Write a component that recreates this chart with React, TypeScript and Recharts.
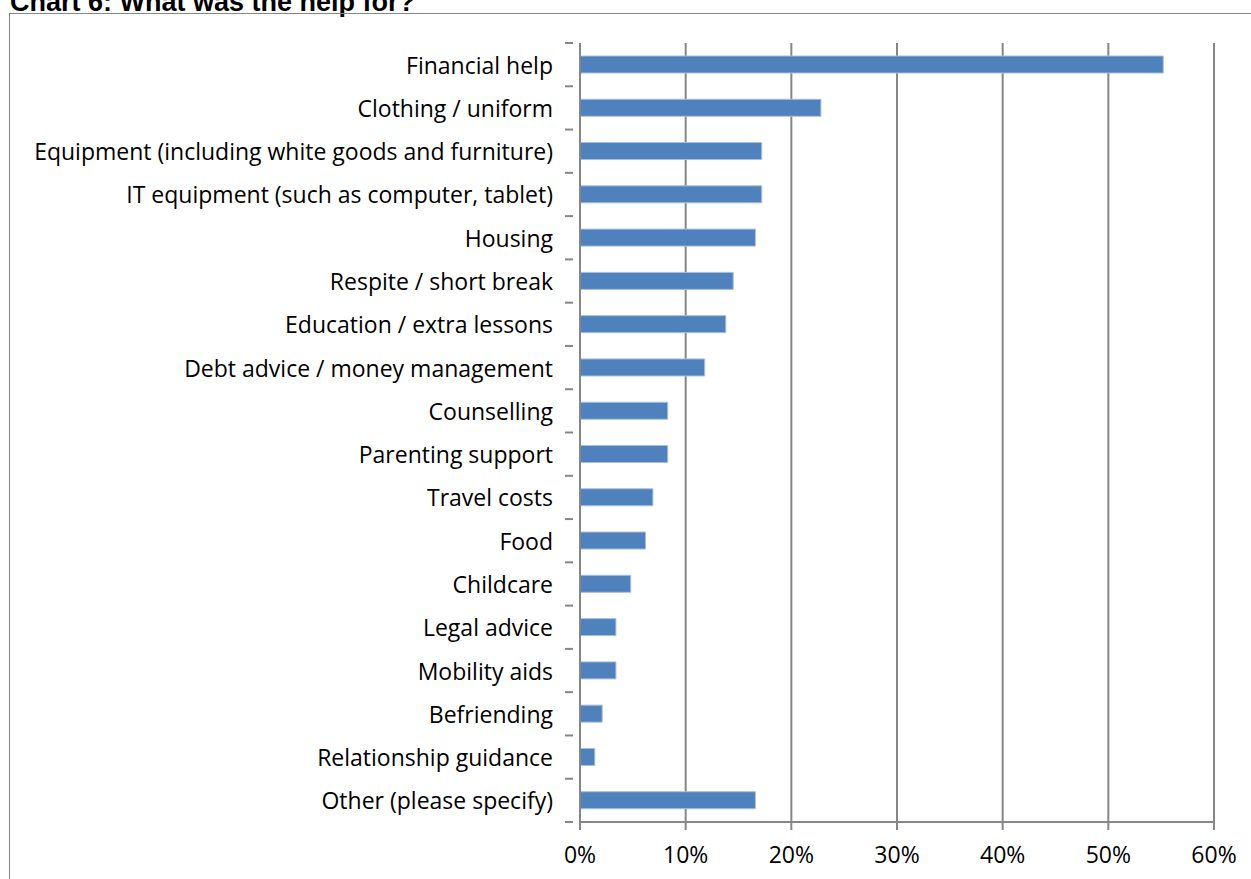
import { BarChart, Bar, XAxis, YAxis, CartesianGrid } from 'recharts';

const categories = [
  'Financial help',
  'Clothing / uniform',
  'Equipment (including white goods and furniture)',
  'IT equipment (such as computer, tablet)',
  'Housing',
  'Respite / short break',
  'Education / extra lessons',
  'Debt advice / money management',
  'Counselling',
  'Parenting support',
  'Travel costs',
  'Food',
  'Childcare',
  'Legal advice',
  'Mobility aids',
  'Befriending',
  'Relationship guidance',
  'Other (please specify)',
];

const shares = [
  0.552, 0.228, 0.172, 0.172, 0.166, 0.145, 0.138, 0.118, 0.083, 0.083,
  0.069, 0.062, 0.048, 0.034, 0.034, 0.021, 0.014, 0.166,
];

const xTicks = [0, 0.1, 0.2, 0.3, 0.4, 0.5, 0.6];

const data = categories.map((name, i) => ({ name, value: shares[i] }));

const W = 1251;
const H = 879;
const TOP = 43;
const BOTTOM = 57;
const band = (H - TOP - BOTTOM) / categories.length;
const font = '"Open Sans", sans-serif';
const axisColor = '#868686';

// category labels plus Excel-style tick marks between categories
const CategoryTick = (props: any) => {
  const { x, y, payload, index } = props;
  return (
    <g>
      <text
        x={x - 19}
        y={y}
        textAnchor="end"
        dominantBaseline="central"
        fontSize={23}
        fontFamily={font}
        fill="#000"
      >
        {payload.value}
      </text>
      {index === 0 && (
        <line x1={x - 7} x2={x + 1} y1={y - band / 2} y2={y - band / 2} stroke={axisColor} strokeWidth={2} />
      )}
      <line x1={x - 7} x2={x + 1} y1={y + band / 2} y2={y + band / 2} stroke={axisColor} strokeWidth={2} />
    </g>
  );
};

export default function App() {
  return (
    <div style={{ position: 'absolute', left: 0, top: 0, width: W, height: H, background: '#fff', overflow: 'hidden' }}>
      <div
        style={{
          position: 'absolute',
          left: 10,
          top: -13,
          fontFamily: '"Liberation Sans", Arial, sans-serif',
          fontWeight: 'bold',
          fontSize: 27,
          whiteSpace: 'nowrap',
        }}
      >
        Chart 6: What was the help for?
      </div>
      <div
        style={{
          position: 'absolute',
          left: 9,
          top: 13,
          width: W,
          height: H,
          border: `1px solid ${axisColor}`,
        }}
      />
      <div style={{ position: 'absolute', left: 0, top: 0 }}>
        <BarChart
          width={W}
          height={H}
          data={data}
          layout="vertical"
          margin={{ top: TOP, right: 37, bottom: 27, left: 10 }}
          barSize={17}
        >
          <CartesianGrid horizontal={false} stroke={axisColor} strokeWidth={2} />
          <XAxis
            type="number"
            domain={[0, 0.6]}
            ticks={xTicks}
            tickFormatter={(v: number) => `${Math.round(v * 100)}%`}
            axisLine={{ stroke: axisColor, strokeWidth: 2 }}
            tickLine={{ stroke: axisColor, strokeWidth: 2 }}
            tickSize={8}
            height={30}
            tick={{ fontSize: 23, fontFamily: font, fill: '#000', dy: 15 }}
          />
          <YAxis
            type="category"
            dataKey="name"
            width={570}
            axisLine={{ stroke: axisColor, strokeWidth: 2 }}
            tickLine={false}
            tick={<CategoryTick />}
            interval={0}
          />
          <Bar dataKey="value" fill="#4f81bd" stroke="#a7bfde" strokeWidth={1} isAnimationActive={false} />
        </BarChart>
      </div>
    </div>
  );
}
